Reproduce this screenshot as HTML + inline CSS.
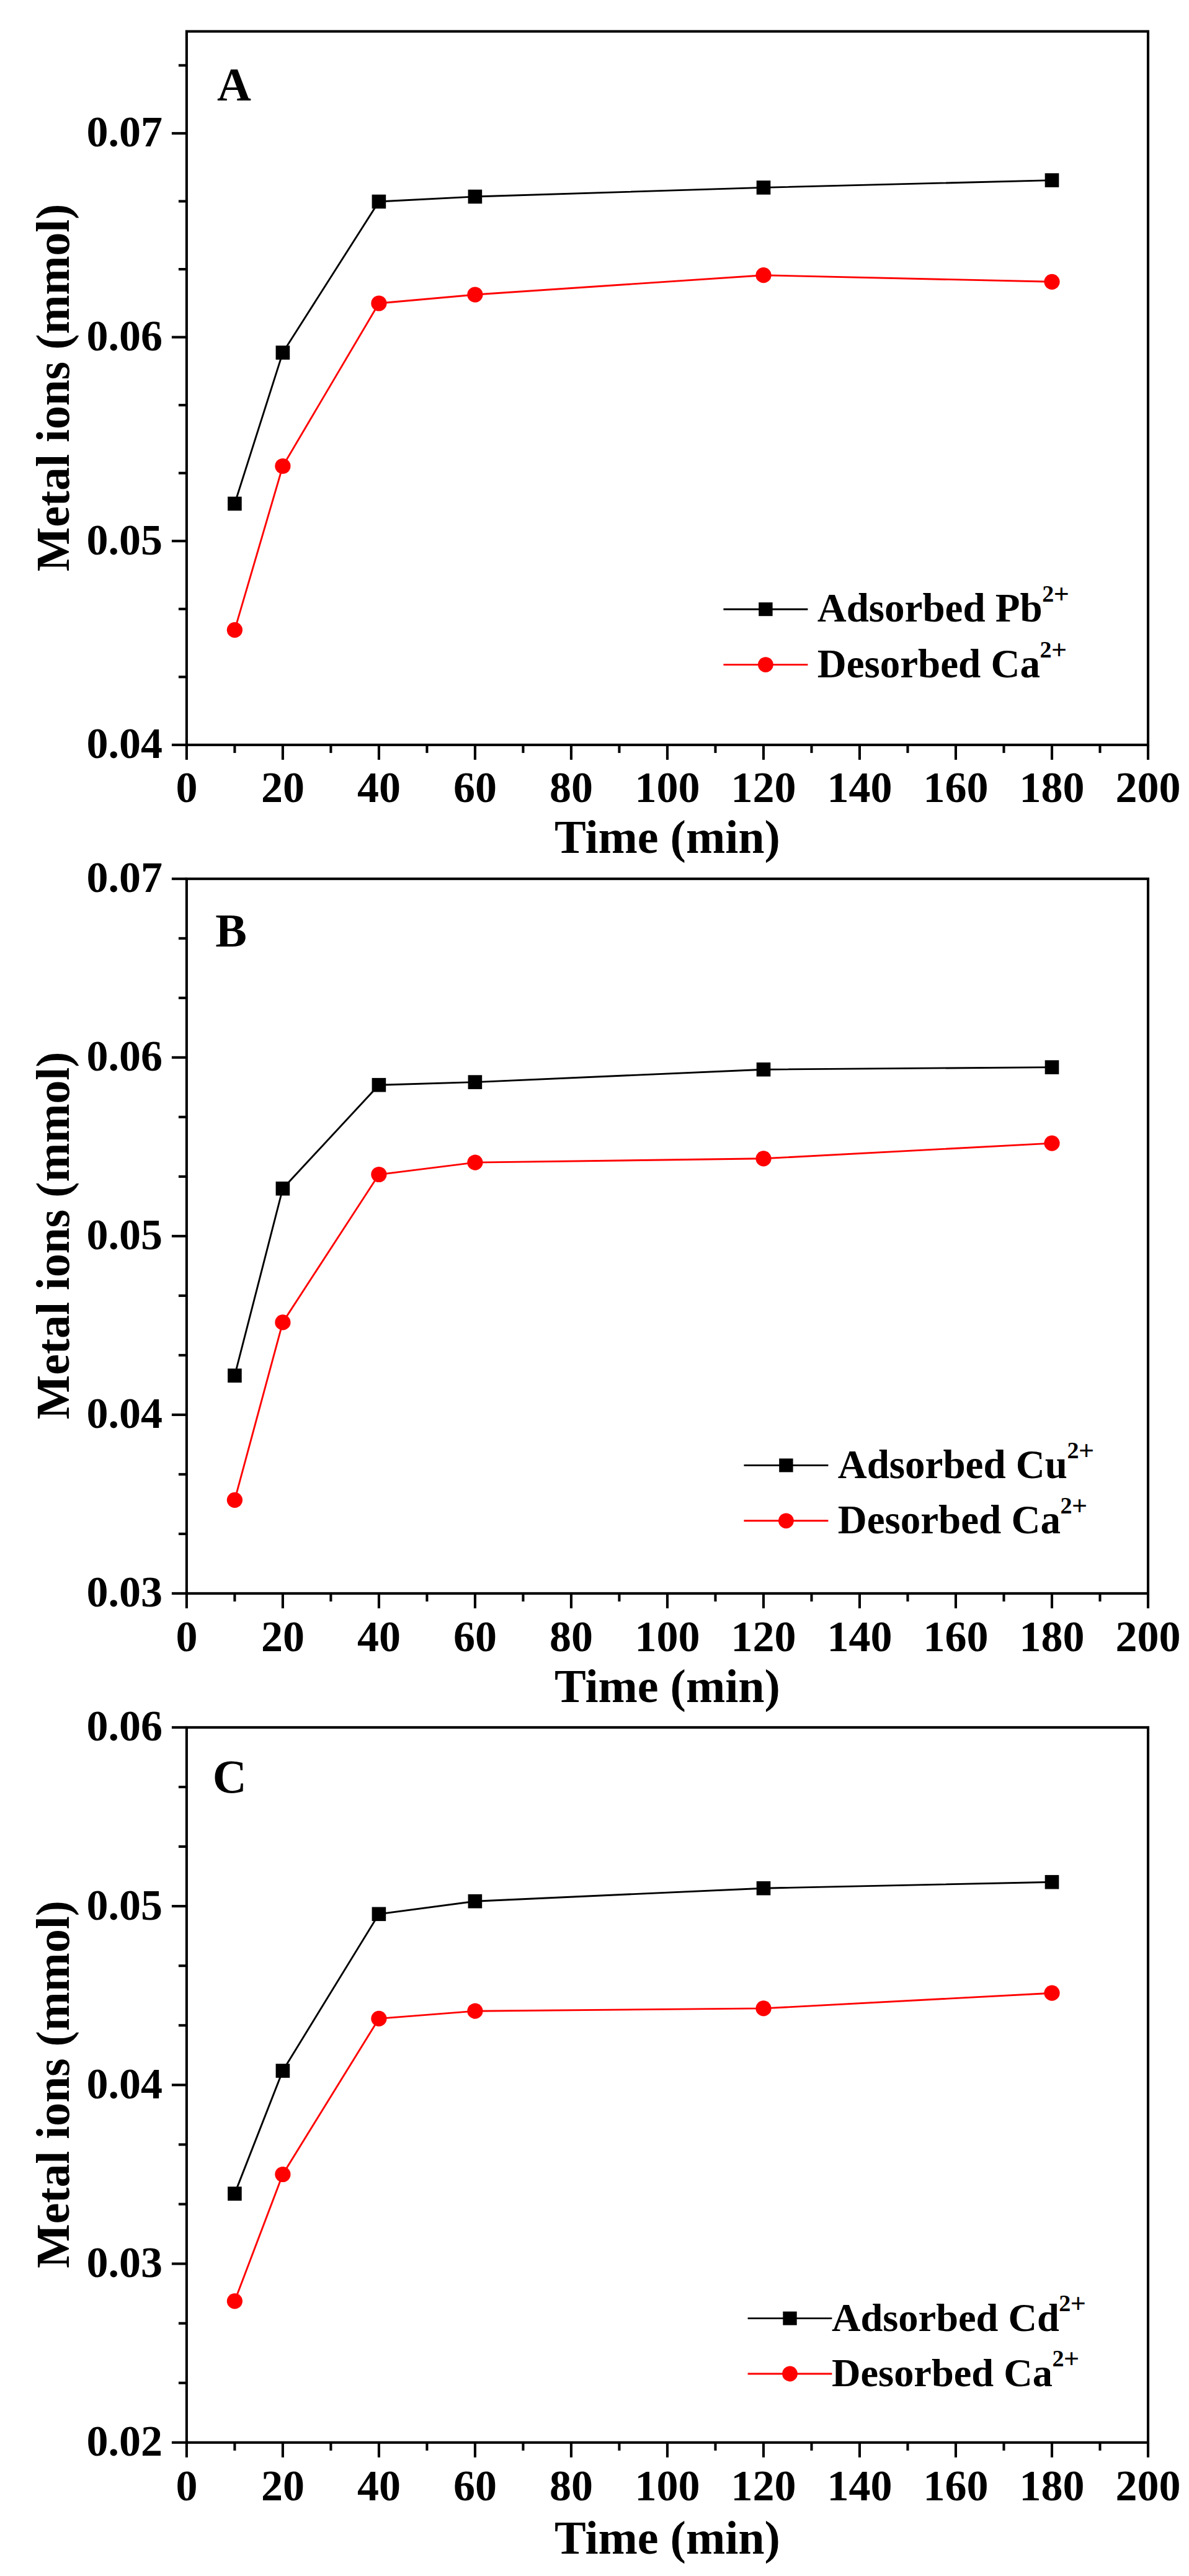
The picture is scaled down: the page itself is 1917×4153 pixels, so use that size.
<!DOCTYPE html>
<html lang="en"><head><meta charset="utf-8"><title>Metal ions vs time</title>
<style>html,body{margin:0;padding:0;background:#fff}svg{display:block}</style>
</head><body>
<svg width="1917" height="4153" viewBox="0 0 1917 4153" font-family='"Liberation Serif", "Times New Roman", Times, serif' font-weight="bold" fill="#000">
<rect width="1917" height="4153" fill="#fff"/>
<g stroke="#000" stroke-width="4.1" fill="none" stroke-linecap="butt">
<rect x="300.9" y="50.6" width="1550.1" height="1150.3000000000002"/>
<line x1="300.90" y1="1200.9" x2="300.90" y2="1224.9"/>
<line x1="378.40" y1="1200.9" x2="378.40" y2="1213.9"/>
<line x1="455.91" y1="1200.9" x2="455.91" y2="1224.9"/>
<line x1="533.41" y1="1200.9" x2="533.41" y2="1213.9"/>
<line x1="610.92" y1="1200.9" x2="610.92" y2="1224.9"/>
<line x1="688.42" y1="1200.9" x2="688.42" y2="1213.9"/>
<line x1="765.93" y1="1200.9" x2="765.93" y2="1224.9"/>
<line x1="843.43" y1="1200.9" x2="843.43" y2="1213.9"/>
<line x1="920.94" y1="1200.9" x2="920.94" y2="1224.9"/>
<line x1="998.44" y1="1200.9" x2="998.44" y2="1213.9"/>
<line x1="1075.95" y1="1200.9" x2="1075.95" y2="1224.9"/>
<line x1="1153.45" y1="1200.9" x2="1153.45" y2="1213.9"/>
<line x1="1230.96" y1="1200.9" x2="1230.96" y2="1224.9"/>
<line x1="1308.47" y1="1200.9" x2="1308.47" y2="1213.9"/>
<line x1="1385.97" y1="1200.9" x2="1385.97" y2="1224.9"/>
<line x1="1463.47" y1="1200.9" x2="1463.47" y2="1213.9"/>
<line x1="1540.98" y1="1200.9" x2="1540.98" y2="1224.9"/>
<line x1="1618.49" y1="1200.9" x2="1618.49" y2="1213.9"/>
<line x1="1695.99" y1="1200.9" x2="1695.99" y2="1224.9"/>
<line x1="1773.49" y1="1200.9" x2="1773.49" y2="1213.9"/>
<line x1="1851.00" y1="1200.9" x2="1851.00" y2="1224.9"/>
<line x1="300.9" y1="1200.90" x2="276.9" y2="1200.90"/>
<line x1="300.9" y1="1091.35" x2="287.9" y2="1091.35"/>
<line x1="300.9" y1="981.80" x2="287.9" y2="981.80"/>
<line x1="300.9" y1="872.24" x2="276.9" y2="872.24"/>
<line x1="300.9" y1="762.69" x2="287.9" y2="762.69"/>
<line x1="300.9" y1="653.14" x2="287.9" y2="653.14"/>
<line x1="300.9" y1="543.59" x2="276.9" y2="543.59"/>
<line x1="300.9" y1="434.03" x2="287.9" y2="434.03"/>
<line x1="300.9" y1="324.48" x2="287.9" y2="324.48"/>
<line x1="300.9" y1="214.93" x2="276.9" y2="214.93"/>
<line x1="300.9" y1="105.38" x2="287.9" y2="105.38"/>
</g>
<g font-size="70">
<text x="300.90" y="1293.4" text-anchor="middle">0</text>
<text x="455.91" y="1293.4" text-anchor="middle">20</text>
<text x="610.92" y="1293.4" text-anchor="middle">40</text>
<text x="765.93" y="1293.4" text-anchor="middle">60</text>
<text x="920.94" y="1293.4" text-anchor="middle">80</text>
<text x="1075.95" y="1293.4" text-anchor="middle">100</text>
<text x="1230.96" y="1293.4" text-anchor="middle">120</text>
<text x="1385.97" y="1293.4" text-anchor="middle">140</text>
<text x="1540.98" y="1293.4" text-anchor="middle">160</text>
<text x="1695.99" y="1293.4" text-anchor="middle">180</text>
<text x="1851.00" y="1293.4" text-anchor="middle">200</text>
<text x="262.0" y="1222.4" text-anchor="end">0.04</text>
<text x="262.0" y="893.7" text-anchor="end">0.05</text>
<text x="262.0" y="565.1" text-anchor="end">0.06</text>
<text x="262.0" y="236.4" text-anchor="end">0.07</text>
</g>
<text font-size="76" x="1076.0" y="1374.7" text-anchor="middle">Time (min)</text>
<text font-size="75.7" transform="translate(110.6 624.8) rotate(-90)" text-anchor="middle">Metal ions (mmol)</text>
<text font-size="76" x="350.0" y="162.0">A</text>
<polyline points="378.4,812 455.9,568.5 610.9,325 765.9,317 1231.0,302.4 1696.0,290.6" fill="none" stroke="#000" stroke-width="2.9"/>
<rect x="367.1" y="800.7" width="22.6" height="22.6" fill="#000"/>
<rect x="444.6" y="557.2" width="22.6" height="22.6" fill="#000"/>
<rect x="599.6" y="313.7" width="22.6" height="22.6" fill="#000"/>
<rect x="754.6" y="305.7" width="22.6" height="22.6" fill="#000"/>
<rect x="1219.7" y="291.1" width="22.6" height="22.6" fill="#000"/>
<rect x="1684.7" y="279.3" width="22.6" height="22.6" fill="#000"/>
<polyline points="378.4,1015.6 455.9,751.5 610.9,489 765.9,475 1231.0,443.7 1696.0,454.3" fill="none" stroke="#f00" stroke-width="2.9"/>
<circle cx="378.4" cy="1015.6" r="12.6" fill="#f00"/>
<circle cx="455.9" cy="751.5" r="12.6" fill="#f00"/>
<circle cx="610.9" cy="489" r="12.6" fill="#f00"/>
<circle cx="765.9" cy="475" r="12.6" fill="#f00"/>
<circle cx="1231.0" cy="443.7" r="12.6" fill="#f00"/>
<circle cx="1696.0" cy="454.3" r="12.6" fill="#f00"/>
<line x1="1166.4" y1="982.2" x2="1302.4" y2="982.2" stroke="#000" stroke-width="2.9"/>
<rect x="1223.2" y="971.2" width="22.4" height="22" fill="#000"/>
<line x1="1166.4" y1="1071.6" x2="1302.4" y2="1071.6" stroke="#f00" stroke-width="2.9"/>
<circle cx="1234.4" cy="1071.6" r="12.4" fill="#f00"/>
<text font-size="65" x="1317.7" y="1002.2">Adsorbed Pb<tspan font-size="38" dy="-32" dx="-0.5">2</tspan><tspan font-size="44" dy="2" dx="-0.5">+</tspan></text>
<text font-size="65" x="1317.7" y="1092.0">Desorbed Ca<tspan font-size="38" dy="-32" dx="-0.5">2</tspan><tspan font-size="44" dy="2" dx="-0.5">+</tspan></text>
<g stroke="#000" stroke-width="4.1" fill="none" stroke-linecap="butt">
<rect x="300.9" y="1416.8" width="1550.1" height="1152.1000000000001"/>
<line x1="300.90" y1="2568.9" x2="300.90" y2="2592.9"/>
<line x1="378.40" y1="2568.9" x2="378.40" y2="2581.9"/>
<line x1="455.91" y1="2568.9" x2="455.91" y2="2592.9"/>
<line x1="533.41" y1="2568.9" x2="533.41" y2="2581.9"/>
<line x1="610.92" y1="2568.9" x2="610.92" y2="2592.9"/>
<line x1="688.42" y1="2568.9" x2="688.42" y2="2581.9"/>
<line x1="765.93" y1="2568.9" x2="765.93" y2="2592.9"/>
<line x1="843.43" y1="2568.9" x2="843.43" y2="2581.9"/>
<line x1="920.94" y1="2568.9" x2="920.94" y2="2592.9"/>
<line x1="998.44" y1="2568.9" x2="998.44" y2="2581.9"/>
<line x1="1075.95" y1="2568.9" x2="1075.95" y2="2592.9"/>
<line x1="1153.45" y1="2568.9" x2="1153.45" y2="2581.9"/>
<line x1="1230.96" y1="2568.9" x2="1230.96" y2="2592.9"/>
<line x1="1308.47" y1="2568.9" x2="1308.47" y2="2581.9"/>
<line x1="1385.97" y1="2568.9" x2="1385.97" y2="2592.9"/>
<line x1="1463.47" y1="2568.9" x2="1463.47" y2="2581.9"/>
<line x1="1540.98" y1="2568.9" x2="1540.98" y2="2592.9"/>
<line x1="1618.49" y1="2568.9" x2="1618.49" y2="2581.9"/>
<line x1="1695.99" y1="2568.9" x2="1695.99" y2="2592.9"/>
<line x1="1773.49" y1="2568.9" x2="1773.49" y2="2581.9"/>
<line x1="1851.00" y1="2568.9" x2="1851.00" y2="2592.9"/>
<line x1="300.9" y1="2568.90" x2="276.9" y2="2568.90"/>
<line x1="300.9" y1="2472.89" x2="287.9" y2="2472.89"/>
<line x1="300.9" y1="2376.88" x2="287.9" y2="2376.88"/>
<line x1="300.9" y1="2280.88" x2="276.9" y2="2280.88"/>
<line x1="300.9" y1="2184.87" x2="287.9" y2="2184.87"/>
<line x1="300.9" y1="2088.86" x2="287.9" y2="2088.86"/>
<line x1="300.9" y1="1992.85" x2="276.9" y2="1992.85"/>
<line x1="300.9" y1="1896.84" x2="287.9" y2="1896.84"/>
<line x1="300.9" y1="1800.83" x2="287.9" y2="1800.83"/>
<line x1="300.9" y1="1704.83" x2="276.9" y2="1704.83"/>
<line x1="300.9" y1="1608.82" x2="287.9" y2="1608.82"/>
<line x1="300.9" y1="1512.81" x2="287.9" y2="1512.81"/>
<line x1="300.9" y1="1416.80" x2="276.9" y2="1416.80"/>
</g>
<g font-size="70">
<text x="300.90" y="2662.4" text-anchor="middle">0</text>
<text x="455.91" y="2662.4" text-anchor="middle">20</text>
<text x="610.92" y="2662.4" text-anchor="middle">40</text>
<text x="765.93" y="2662.4" text-anchor="middle">60</text>
<text x="920.94" y="2662.4" text-anchor="middle">80</text>
<text x="1075.95" y="2662.4" text-anchor="middle">100</text>
<text x="1230.96" y="2662.4" text-anchor="middle">120</text>
<text x="1385.97" y="2662.4" text-anchor="middle">140</text>
<text x="1540.98" y="2662.4" text-anchor="middle">160</text>
<text x="1695.99" y="2662.4" text-anchor="middle">180</text>
<text x="1851.00" y="2662.4" text-anchor="middle">200</text>
<text x="262.0" y="2590.4" text-anchor="end">0.03</text>
<text x="262.0" y="2302.4" text-anchor="end">0.04</text>
<text x="262.0" y="2014.3" text-anchor="end">0.05</text>
<text x="262.0" y="1726.3" text-anchor="end">0.06</text>
<text x="262.0" y="1438.3" text-anchor="end">0.07</text>
</g>
<text font-size="76" x="1076.0" y="2743.5" text-anchor="middle">Time (min)</text>
<text font-size="75.7" transform="translate(110.6 1991.8) rotate(-90)" text-anchor="middle">Metal ions (mmol)</text>
<text font-size="76" x="347.2" y="1526.3">B</text>
<polyline points="378.4,2217.7 455.9,1916.2 610.9,1749.2 765.9,1744.6 1231.0,1724.2 1696.0,1720.6" fill="none" stroke="#000" stroke-width="2.9"/>
<rect x="367.1" y="2206.4" width="22.6" height="22.6" fill="#000"/>
<rect x="444.6" y="1904.9" width="22.6" height="22.6" fill="#000"/>
<rect x="599.6" y="1737.9" width="22.6" height="22.6" fill="#000"/>
<rect x="754.6" y="1733.3" width="22.6" height="22.6" fill="#000"/>
<rect x="1219.7" y="1712.9" width="22.6" height="22.6" fill="#000"/>
<rect x="1684.7" y="1709.3" width="22.6" height="22.6" fill="#000"/>
<polyline points="378.4,2418.3 455.9,2131.9 610.9,1893.5 765.9,1874.1 1231.0,1867.8 1696.0,1843.1" fill="none" stroke="#f00" stroke-width="2.9"/>
<circle cx="378.4" cy="2418.3" r="12.6" fill="#f00"/>
<circle cx="455.9" cy="2131.9" r="12.6" fill="#f00"/>
<circle cx="610.9" cy="1893.5" r="12.6" fill="#f00"/>
<circle cx="765.9" cy="1874.1" r="12.6" fill="#f00"/>
<circle cx="1231.0" cy="1867.8" r="12.6" fill="#f00"/>
<circle cx="1696.0" cy="1843.1" r="12.6" fill="#f00"/>
<line x1="1199.4" y1="2362.4" x2="1335.4" y2="2362.4" stroke="#000" stroke-width="2.9"/>
<rect x="1256.2" y="2351.4" width="22.4" height="22" fill="#000"/>
<line x1="1199.4" y1="2451.8" x2="1335.4" y2="2451.8" stroke="#f00" stroke-width="2.9"/>
<circle cx="1267.4" cy="2451.8" r="12.4" fill="#f00"/>
<text font-size="65" x="1350.7" y="2383.0">Adsorbed Cu<tspan font-size="38" dy="-32" dx="-0.5">2</tspan><tspan font-size="44" dy="2" dx="-0.5">+</tspan></text>
<text font-size="65" x="1350.7" y="2472.0">Desorbed Ca<tspan font-size="38" dy="-32" dx="-0.5">2</tspan><tspan font-size="44" dy="2" dx="-0.5">+</tspan></text>
<g stroke="#000" stroke-width="4.1" fill="none" stroke-linecap="butt">
<rect x="300.9" y="2784.9" width="1550.1" height="1152.9"/>
<line x1="300.90" y1="3937.8" x2="300.90" y2="3961.8"/>
<line x1="378.40" y1="3937.8" x2="378.40" y2="3950.8"/>
<line x1="455.91" y1="3937.8" x2="455.91" y2="3961.8"/>
<line x1="533.41" y1="3937.8" x2="533.41" y2="3950.8"/>
<line x1="610.92" y1="3937.8" x2="610.92" y2="3961.8"/>
<line x1="688.42" y1="3937.8" x2="688.42" y2="3950.8"/>
<line x1="765.93" y1="3937.8" x2="765.93" y2="3961.8"/>
<line x1="843.43" y1="3937.8" x2="843.43" y2="3950.8"/>
<line x1="920.94" y1="3937.8" x2="920.94" y2="3961.8"/>
<line x1="998.44" y1="3937.8" x2="998.44" y2="3950.8"/>
<line x1="1075.95" y1="3937.8" x2="1075.95" y2="3961.8"/>
<line x1="1153.45" y1="3937.8" x2="1153.45" y2="3950.8"/>
<line x1="1230.96" y1="3937.8" x2="1230.96" y2="3961.8"/>
<line x1="1308.47" y1="3937.8" x2="1308.47" y2="3950.8"/>
<line x1="1385.97" y1="3937.8" x2="1385.97" y2="3961.8"/>
<line x1="1463.47" y1="3937.8" x2="1463.47" y2="3950.8"/>
<line x1="1540.98" y1="3937.8" x2="1540.98" y2="3961.8"/>
<line x1="1618.49" y1="3937.8" x2="1618.49" y2="3950.8"/>
<line x1="1695.99" y1="3937.8" x2="1695.99" y2="3961.8"/>
<line x1="1773.49" y1="3937.8" x2="1773.49" y2="3950.8"/>
<line x1="1851.00" y1="3937.8" x2="1851.00" y2="3961.8"/>
<line x1="300.9" y1="3937.80" x2="276.9" y2="3937.80"/>
<line x1="300.9" y1="3841.73" x2="287.9" y2="3841.73"/>
<line x1="300.9" y1="3745.65" x2="287.9" y2="3745.65"/>
<line x1="300.9" y1="3649.58" x2="276.9" y2="3649.58"/>
<line x1="300.9" y1="3553.50" x2="287.9" y2="3553.50"/>
<line x1="300.9" y1="3457.43" x2="287.9" y2="3457.43"/>
<line x1="300.9" y1="3361.35" x2="276.9" y2="3361.35"/>
<line x1="300.9" y1="3265.28" x2="287.9" y2="3265.28"/>
<line x1="300.9" y1="3169.20" x2="287.9" y2="3169.20"/>
<line x1="300.9" y1="3073.12" x2="276.9" y2="3073.12"/>
<line x1="300.9" y1="2977.05" x2="287.9" y2="2977.05"/>
<line x1="300.9" y1="2880.97" x2="287.9" y2="2880.97"/>
<line x1="300.9" y1="2784.90" x2="276.9" y2="2784.90"/>
</g>
<g font-size="70">
<text x="300.90" y="4031.3" text-anchor="middle">0</text>
<text x="455.91" y="4031.3" text-anchor="middle">20</text>
<text x="610.92" y="4031.3" text-anchor="middle">40</text>
<text x="765.93" y="4031.3" text-anchor="middle">60</text>
<text x="920.94" y="4031.3" text-anchor="middle">80</text>
<text x="1075.95" y="4031.3" text-anchor="middle">100</text>
<text x="1230.96" y="4031.3" text-anchor="middle">120</text>
<text x="1385.97" y="4031.3" text-anchor="middle">140</text>
<text x="1540.98" y="4031.3" text-anchor="middle">160</text>
<text x="1695.99" y="4031.3" text-anchor="middle">180</text>
<text x="1851.00" y="4031.3" text-anchor="middle">200</text>
<text x="262.0" y="3959.3" text-anchor="end">0.02</text>
<text x="262.0" y="3671.1" text-anchor="end">0.03</text>
<text x="262.0" y="3382.8" text-anchor="end">0.04</text>
<text x="262.0" y="3094.6" text-anchor="end">0.05</text>
<text x="262.0" y="2806.4" text-anchor="end">0.06</text>
</g>
<text font-size="76" x="1076.0" y="4116.6" text-anchor="middle">Time (min)</text>
<text font-size="75.7" transform="translate(110.6 3360.4) rotate(-90)" text-anchor="middle">Metal ions (mmol)</text>
<text font-size="76" x="342.7" y="2889.6">C</text>
<polyline points="378.4,3536.6 455.9,3338.5 610.9,3085.8 765.9,3065.2 1231.0,3044.2 1696.0,3034.2" fill="none" stroke="#000" stroke-width="2.9"/>
<rect x="367.1" y="3525.3" width="22.6" height="22.6" fill="#000"/>
<rect x="444.6" y="3327.2" width="22.6" height="22.6" fill="#000"/>
<rect x="599.6" y="3074.5" width="22.6" height="22.6" fill="#000"/>
<rect x="754.6" y="3053.9" width="22.6" height="22.6" fill="#000"/>
<rect x="1219.7" y="3032.9" width="22.6" height="22.6" fill="#000"/>
<rect x="1684.7" y="3022.9" width="22.6" height="22.6" fill="#000"/>
<polyline points="378.4,3709.8 455.9,3505.5 610.9,3254.4 765.9,3242.2 1231.0,3237.9 1696.0,3213.2" fill="none" stroke="#f00" stroke-width="2.9"/>
<circle cx="378.4" cy="3709.8" r="12.6" fill="#f00"/>
<circle cx="455.9" cy="3505.5" r="12.6" fill="#f00"/>
<circle cx="610.9" cy="3254.4" r="12.6" fill="#f00"/>
<circle cx="765.9" cy="3242.2" r="12.6" fill="#f00"/>
<circle cx="1231.0" cy="3237.9" r="12.6" fill="#f00"/>
<circle cx="1696.0" cy="3213.2" r="12.6" fill="#f00"/>
<line x1="1205.6" y1="3737.6" x2="1341.4" y2="3737.6" stroke="#000" stroke-width="2.9"/>
<rect x="1262.3" y="3726.6" width="22.4" height="22" fill="#000"/>
<line x1="1205.6" y1="3827.0" x2="1341.4" y2="3827.0" stroke="#f00" stroke-width="2.9"/>
<circle cx="1273.5" cy="3827.0" r="12.4" fill="#f00"/>
<text font-size="64.4" x="1341.0" y="3758.0">Adsorbed Cd<tspan font-size="38" dy="-32" dx="-0.5">2</tspan><tspan font-size="44" dy="2" dx="-0.5">+</tspan></text>
<text font-size="64.4" x="1341.0" y="3847.0">Desorbed Ca<tspan font-size="38" dy="-32" dx="-0.5">2</tspan><tspan font-size="44" dy="2" dx="-0.5">+</tspan></text>
</svg>
</body></html>
